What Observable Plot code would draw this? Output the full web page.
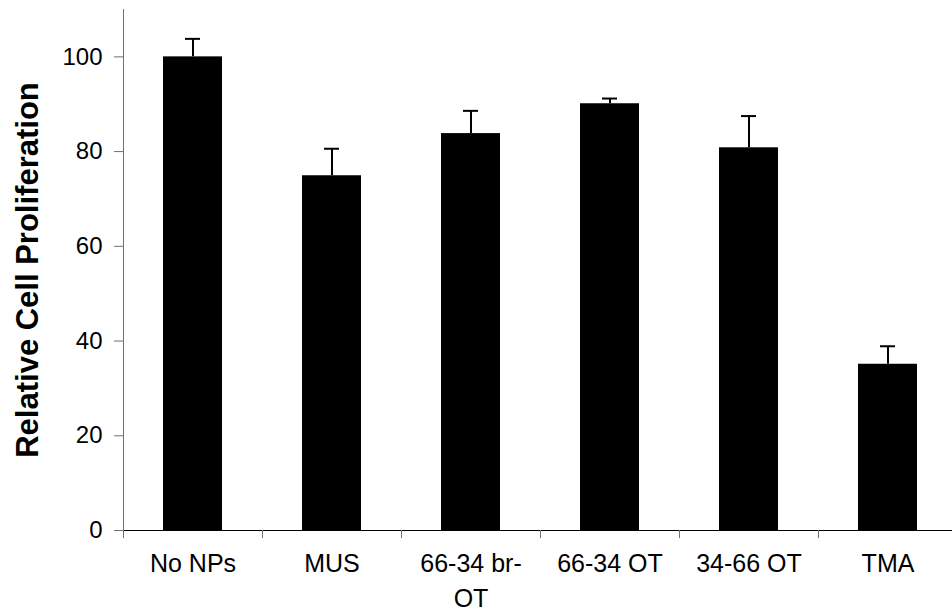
<!DOCTYPE html>
<html>
<head>
<meta charset="utf-8">
<script src="https://cdn.jsdelivr.net/npm/d3@7"></script>
<script src="https://cdn.jsdelivr.net/npm/@observablehq/plot@0.6"></script>
<style>
  html, body { margin: 0; padding: 0; background: #fff; }
  #chart svg { display: block; }
</style>
</head>
<body>
<div id="chart"></div>
<script>
const categories = ["No NPs", "MUS", "66-34 br-OT", "66-34 OT", "34-66 OT", "TMA"];
const tickLabels = ["No NPs", "MUS", "66-34 br-\nOT", "66-34 OT", "34-66 OT", "TMA"];
const values = [100, 74.9, 83.8, 90.1, 80.8, 35.1];
const errors = [3.8, 5.7, 4.8, 1.1, 6.7, 3.8];
const yTicks = [0, 20, 40, 60, 80, 100];
const yTitle = "Relative Cell Proliferation";

const data = categories.map((c, i) => ({cat: c, value: values[i], top: values[i] + errors[i]}));
const labelOf = new Map(categories.map((c, i) => [c, tickLabels[i]]));

const W = 952, H = 613;
const mL = 123, mT = 9, mB = 83;
const step = (957 - mL) / categories.length;

const chart = Plot.plot({
  width: W,
  height: H,
  marginLeft: mL,
  marginRight: 0,
  marginTop: mT,
  marginBottom: mB,
  style: {fontFamily: "Arial, 'Liberation Sans', sans-serif", background: "#fff", color: "#000"},
  x: {domain: categories, range: [mL, 957], padding: 0, axis: null},
  y: {domain: [0, 110], axis: null},
  marks: [
    Plot.barY(data, {x: "cat", y: "value", fill: "#000", insetLeft: 40, insetRight: 40}),
    Plot.ruleX(data, {x: "cat", y1: "value", y2: "top", stroke: "#000", strokeWidth: 2}),
    Plot.tickY(data, {x: "cat", y: "top", stroke: "#000", strokeWidth: 2, insetLeft: (step - 15) / 2, insetRight: (step - 15) / 2}),
    Plot.frame({anchor: "left", stroke: "#707070"}),
    Plot.ruleY([0], {stroke: "#000", strokeWidth: 1.2}),
    Plot.axisY({ticks: yTicks, tickSize: 9, tickPadding: 12, stroke: "#707070", fill: "#000", fontSize: 24, label: null}),
    Plot.axisX({tickSize: 8, dx: -step / 2, tickFormat: () => "", stroke: "#707070", label: null}),
    Plot.axisX({tickSize: 0, tickPadding: 17, tickFormat: d => labelOf.get(d), fontSize: 25, lineHeight: 1.4, fill: "#000", label: null}),
    Plot.text([yTitle], {frameAnchor: "left", textAnchor: "middle", rotate: -90, dx: 37 - mL, lineAnchor: "bottom", fontSize: 31, fontWeight: "bold", fill: "#000"})
  ]
});
document.getElementById("chart").appendChild(chart);
</script>
</body>
</html>
